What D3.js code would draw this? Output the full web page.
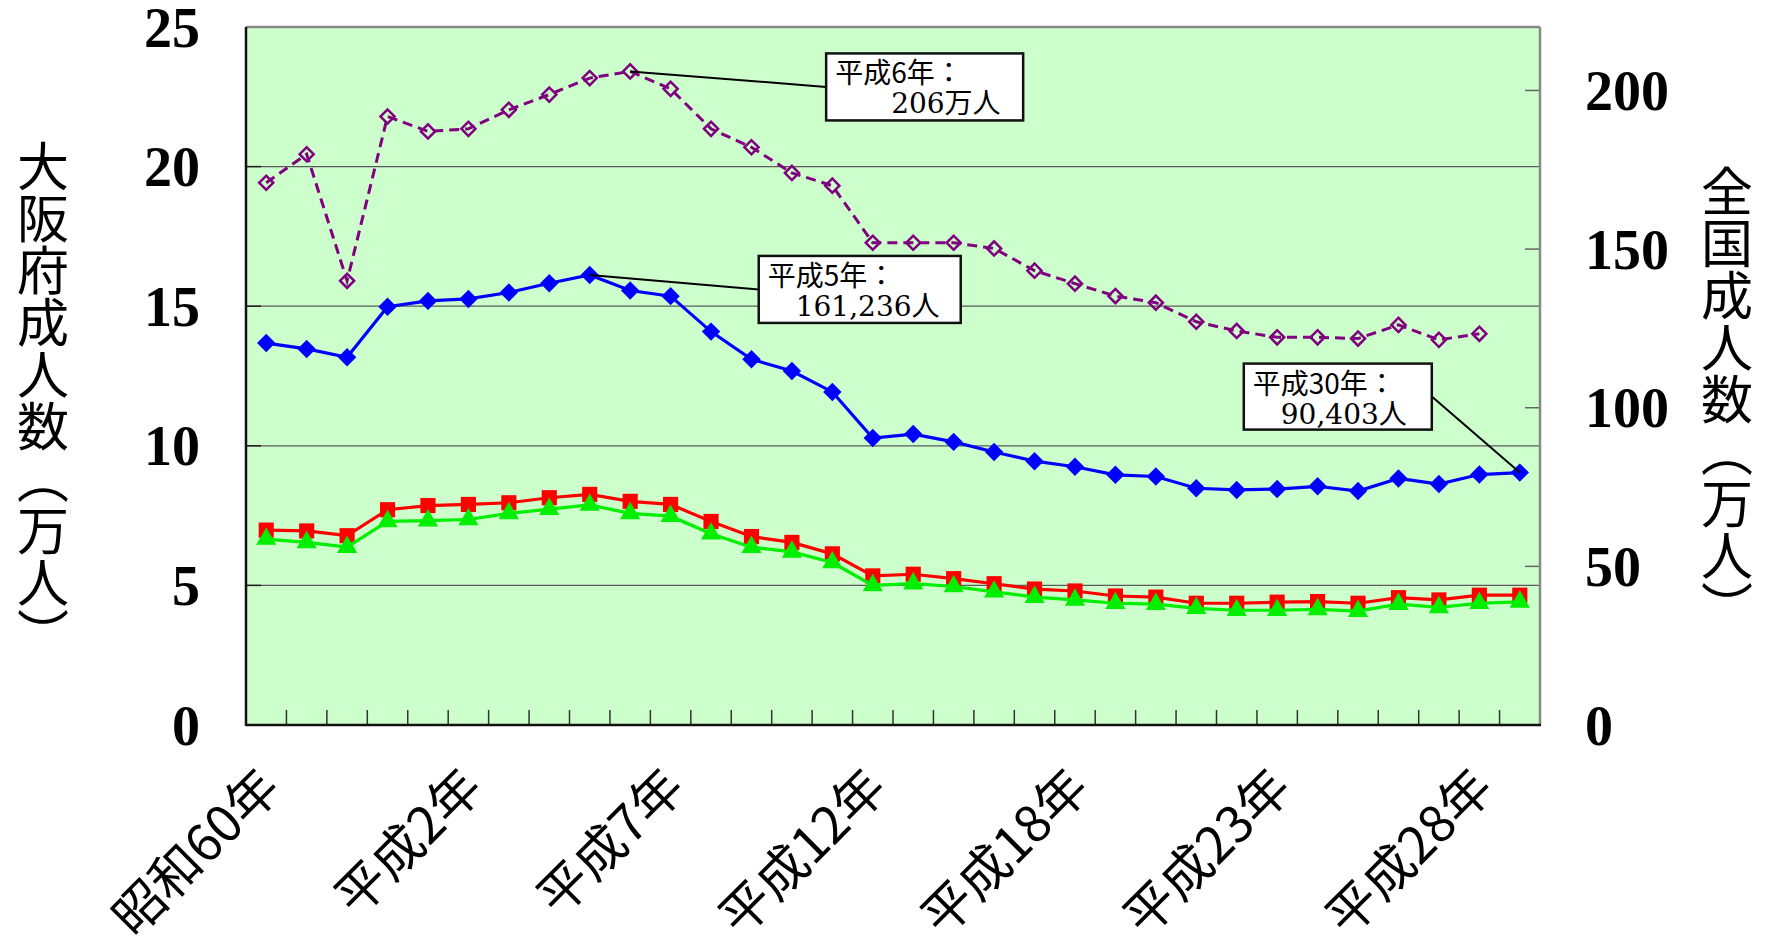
<!DOCTYPE html>
<html><head><meta charset="utf-8">
<script src="https://cdn.jsdelivr.net/npm/d3@7"></script>
<style>body{margin:0;background:#fff} svg{display:block}</style>
</head><body>
<svg id="chart" width="1767" height="949"></svg>
<script>
// ---- data ----
const categories = ["昭和60年","昭和61年","昭和62年","昭和63年","平成元年","平成2年","平成3年","平成4年","平成5年","平成6年","平成7年","平成8年","平成9年","平成10年","平成11年","平成12年","平成14年","平成15年","平成16年","平成17年","平成18年","平成19年","平成20年","平成21年","平成22年","平成23年","平成24年","平成25年","平成26年","平成27年","平成28年","平成30年"];
// 大阪府 成人数（万人） – left axis
const osakaTotal  = [13.68,13.47,13.17,14.98,15.19,15.26,15.49,15.82,16.12,15.56,15.36,14.09,13.10,12.68,11.93,10.28,10.42,10.14,9.78,9.45,9.25,8.96,8.90,8.48,8.42,8.45,8.55,8.38,8.83,8.63,8.97,9.04];
const osakaMale   = [6.98,6.95,6.78,7.71,7.86,7.90,7.96,8.14,8.26,8.01,7.90,7.29,6.75,6.54,6.13,5.34,5.40,5.24,5.06,4.87,4.80,4.62,4.58,4.36,4.36,4.40,4.42,4.36,4.56,4.48,4.65,4.65];
const osakaFemale = [6.66,6.54,6.37,7.29,7.32,7.36,7.58,7.73,7.88,7.58,7.48,6.85,6.37,6.20,5.82,5.00,5.06,4.96,4.77,4.58,4.48,4.36,4.33,4.18,4.11,4.11,4.14,4.08,4.33,4.21,4.36,4.41];
// 全国 成人数（万人） – right axis
const nationalTotal = [170.9,179.9,140.0,191.8,187.1,187.9,193.9,198.7,203.9,206.0,200.5,187.9,182.1,174.0,170.0,152.0,152.0,152.0,150.2,143.2,139.1,135.2,133.1,127.1,124.2,122.2,122.2,121.8,126.1,121.4,123.3,null];
const leftTicks  = [0,5,10,15,20,25];
const rightTicks = [0,50,100,150,200];
const leftMax = 25, rightMax = 220;
const labelEvery = 5;
const leftTitle = "大阪府成人数（万人）";
const rightTitle = "全国成人数（万人）";
const notes = [
  {axis:"right", values:nationalTotal, index:9,  line1:"平成6年：",  line2:"　　206万人"},
  {axis:"left",  values:osakaTotal,    index:8,  line1:"平成5年：",  line2:"　161,236人"},
  {axis:"left",  values:osakaTotal,    index:31, line1:"平成30年：", line2:"　90,403人"}
];

// ---- layout ----
const P = {left:246, right:1540, top:27, bottom:725};
const svg = d3.select("#chart");
const x = d3.scaleBand().domain(categories).range([P.left, P.right]);
const cx = c => x(c) + x.bandwidth()/2;
const yL = d3.scaleLinear().domain([0, leftMax]).range([P.bottom, P.top]);
const yR = d3.scaleLinear().domain([0, rightMax]).range([P.bottom, P.top]);

// plot background
svg.append("rect").attr("x",P.left).attr("y",P.top).attr("width",P.right-P.left).attr("height",P.bottom-P.top).attr("fill","#CCFFCC");

// gridlines
svg.append("g").selectAll("line").data(leftTicks.filter(t=>t>0 && t<leftMax)).join("line")
  .attr("x1",P.left).attr("x2",P.right).attr("y1",d=>yL(d)).attr("y2",d=>yL(d))
  .attr("stroke","#5a5a5a").attr("stroke-width",1.2);

// left inner ticks
svg.append("g").selectAll("line").data(leftTicks.filter(t=>t>0 && t<leftMax)).join("line")
  .attr("x1",P.left).attr("x2",P.left+15).attr("y1",d=>yL(d)).attr("y2",d=>yL(d))
  .attr("stroke","#222").attr("stroke-width",1.5);
// right inner ticks
svg.append("g").selectAll("line").data(rightTicks.filter(t=>t>0)).join("line")
  .attr("x1",P.right-15).attr("x2",P.right).attr("y1",d=>yR(d)).attr("y2",d=>yR(d))
  .attr("stroke","#666").attr("stroke-width",1.5);
// x inner ticks at category boundaries
svg.append("g").selectAll("line").data(categories.slice(1)).join("line")
  .attr("x1",d=>x(d)).attr("x2",d=>x(d)).attr("y1",P.bottom).attr("y2",P.bottom-15)
  .attr("stroke","#333").attr("stroke-width",1.5);

// borders
svg.append("line").attr("x1",P.left).attr("x2",P.right).attr("y1",P.top).attr("y2",P.top).attr("stroke","#888").attr("stroke-width",2.5);
svg.append("line").attr("x1",P.right).attr("x2",P.right).attr("y1",P.top).attr("y2",P.bottom).attr("stroke","#888").attr("stroke-width",2.5);
svg.append("line").attr("x1",P.left).attr("x2",P.left).attr("y1",P.top).attr("y2",P.bottom+1).attr("stroke","#111").attr("stroke-width",2.5);
svg.append("line").attr("x1",P.left).attr("x2",P.right+1).attr("y1",P.bottom).attr("y2",P.bottom).attr("stroke","#111").attr("stroke-width",2.5);

// series
function drawSeries(values, y, color, opts){
  const pts = categories.map((c,i)=>({c, v:values[i]}));
  const line = d3.line().defined(d=>d.v!=null).x(d=>cx(d.c)).y(d=>y(d.v));
  svg.append("path").datum(pts).attr("d",line).attr("fill","none")
    .attr("stroke",color).attr("stroke-width",opts.width)
    .attr("stroke-dasharray",opts.dash||null);
  svg.append("g").selectAll("path").data(pts.filter(d=>d.v!=null)).join("path")
    .attr("d", d3.symbol(opts.symbol, opts.size)())
    .attr("transform", d=>`translate(${cx(d.c)},${y(d.v)})${opts.rotate?" rotate(45)":""}`)
    .attr("fill", opts.hollow ? "none" : color)
    .attr("stroke", color).attr("stroke-width", opts.hollow?2.5:0);
}
drawSeries(nationalTotal, yR, "#800080", {width:3, dash:"10,6", symbol:d3.symbolSquare, size:100, rotate:true, hollow:true});
drawSeries(osakaTotal, yL, "#0000FF", {width:3.2, symbol:d3.symbolSquare, size:170, rotate:true});
drawSeries(osakaMale, yL, "#FF0000", {width:3.2, symbol:d3.symbolSquare, size:230});
drawSeries(osakaFemale, yL, "#00EE00", {width:3.2, symbol:d3.symbolTriangle, size:175});

// axes
const tickFont = '"Liberation Serif", "DejaVu Serif", serif';
const gL = svg.append("g").attr("transform",`translate(${P.left},0)`)
  .call(d3.axisLeft(yL).tickValues(leftTicks).tickSize(0).tickPadding(46));
const gR = svg.append("g").attr("transform",`translate(${P.right},0)`)
  .call(d3.axisRight(yR).tickValues(rightTicks).tickSize(0).tickPadding(45));
[gL,gR].forEach(g=>{
  g.select(".domain").remove();
  g.selectAll("text").attr("font-family",tickFont).attr("font-weight","bold")
   .attr("font-size",56).attr("fill","#000").attr("dy","0.34em");
});

// x labels
svg.append("g").selectAll("text").data(categories.filter((c,i)=>i%labelEvery===0)).join("text")
  .attr("transform", d=>`translate(${cx(d)+1},${P.bottom+50}) rotate(-45)`)
  .attr("text-anchor","end").attr("dominant-baseline","central")
  .attr("font-family",'"Noto Sans CJK JP", sans-serif').attr("font-size",51).attr("fill","#000")
  .text(d=>d);

// axis titles
svg.append("text").attr("x",43).attr("y",400)
  .style("writing-mode","vertical-rl").attr("text-anchor","middle")
  .attr("font-family",'"Noto Sans CJK JP", sans-serif').attr("font-size",52).attr("fill","#000")
  .text(leftTitle);
svg.append("text").attr("x",1727).attr("y",399)
  .style("writing-mode","vertical-rl").attr("text-anchor","middle")
  .attr("font-family",'"Noto Sans CJK JP", sans-serif').attr("font-size",52).attr("fill","#000")
  .text(rightTitle);

// callouts
const boxLayout = [
  {dx:196, dy:-18, w:197, h:67, side:"left"},
  {dx:169, dy:-19, w:202, h:67, side:"left"},
  {dx:-276, dy:-109, w:188, h:66, side:"right"}
];
notes.forEach((n,k)=>{
  const L = boxLayout[k];
  const y = n.axis==="right" ? yR : yL;
  const px = cx(categories[n.index]), py = y(n.values[n.index]);
  const bx = px + L.dx, by = py + L.dy;
  const lx = L.side==="left" ? bx : bx + L.w;
  svg.append("line").attr("x1",px).attr("y1",py).attr("x2",lx).attr("y2",by+L.h/2)
    .attr("stroke","#000").attr("stroke-width",2);
  svg.append("rect").attr("x",bx).attr("y",by).attr("width",L.w).attr("height",L.h)
    .attr("fill","#fff").attr("stroke","#111").attr("stroke-width",2.5);
  svg.append("text").attr("x",bx+9).attr("y",by+30)
    .attr("font-family",'"Noto Sans CJK JP", sans-serif').attr("font-size",28).attr("fill","#000")
    .text(n.line1);
  svg.append("text").attr("x",bx+9).attr("y",by+60)
    .attr("font-family",'"DejaVu Serif", "Noto Sans CJK JP", serif').attr("font-size",28).attr("fill","#000")
    .text(n.line2);
});
</script>
</body></html>
